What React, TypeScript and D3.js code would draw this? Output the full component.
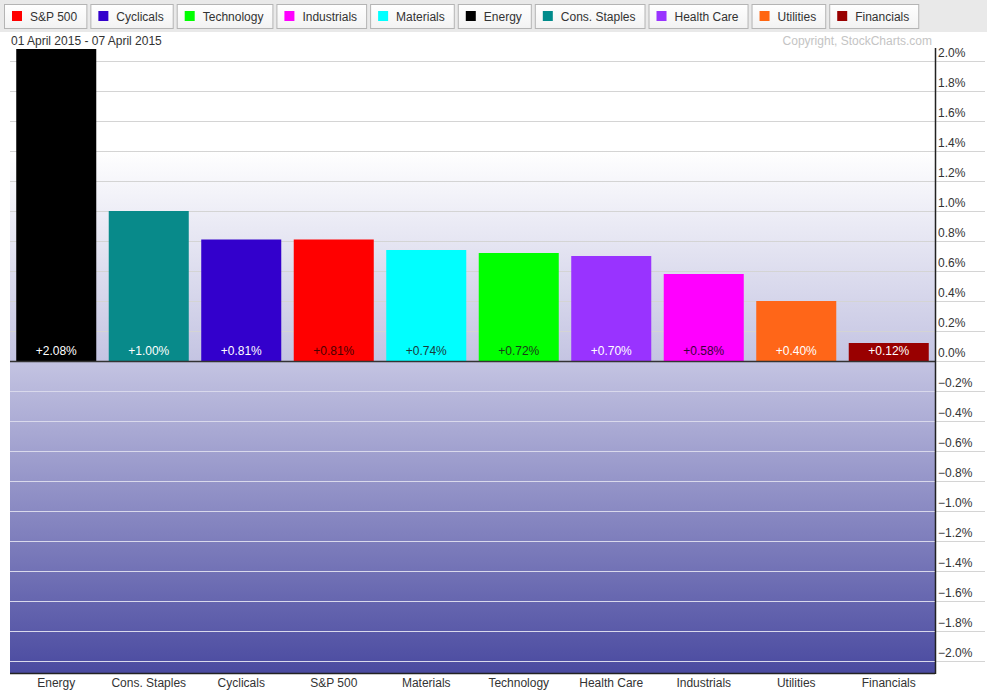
import React from "react";
import * as d3 from "d3";

const legendNames = ["S&P 500", "Cyclicals", "Technology", "Industrials", "Materials", "Energy", "Cons. Staples", "Health Care", "Utilities", "Financials"];
const legendColors = ["#ff0000", "#3300cc", "#00ff00", "#ff00ff", "#00ffff", "#000000", "#008b8b", "#9933ff", "#ff6611", "#990000"];

const categories = ["Energy", "Cons. Staples", "Cyclicals", "S&P 500", "Materials", "Technology", "Health Care", "Industrials", "Utilities", "Financials"];
const values = [2.08, 1.0, 0.81, 0.81, 0.74, 0.72, 0.7, 0.58, 0.4, 0.12];
const barColors = ["#000000", "#088a8a", "#3300cc", "#ff0000", "#00ffff", "#00ff00", "#9933ff", "#ff00ff", "#ff6618", "#990000"];
const labelColors = ["#ffffff", "#ffffff", "#ffffff", "#4a0000", "#1a3a3a", "#1a3a1a", "#ffffff", "#3a003a", "#ffffff", "#ffffff"];
const tickValues = [2.0, 1.8, 1.6, 1.4, 1.2, 1.0, 0.8, 0.6, 0.4, 0.2, 0.0, -0.2, -0.4, -0.6, -0.8, -1.0, -1.2, -1.4, -1.6, -1.8, -2.0];

const W = 987, H = 693;
const FONT = "'Liberation Sans', Arial, sans-serif";
const plotLeft = 10, plotRight = 935, plotTop = 33, plotBottom = 673;

function measure(text: string): number {
  const c = document.createElement("canvas").getContext("2d");
  if (!c) return text.length * 6.5;
  c.font = "12px 'Liberation Sans', Arial, sans-serif";
  return c.measureText(text).width;
}

export default function App() {
  const y = d3.scaleLinear().domain([-2, 2]).range([661, 61]);
  const x = d3.scaleBand<string>().domain(categories).range([plotLeft, plotRight]).paddingInner(0.135).paddingOuter(0.0675);
  const y0 = y(0);

  let lx = 4;
  const buttons = legendNames.map((n, i) => {
    const w = measure(n) + 35;
    const b = { n, c: legendColors[i], x: lx, w };
    lx += w + 4;
    return b;
  });

  return (
    <svg width={W} height={H} style={{ position: "absolute", left: 0, top: 0, display: "block" }} fontFamily={FONT}>
      <defs>
        <linearGradient id="bg" x1="0" y1={plotTop} x2="0" y2={plotBottom} gradientUnits="userSpaceOnUse">
          <stop offset={(150 - plotTop) / (plotBottom - plotTop)} stopColor="#ffffff" />
          <stop offset={(y0 - plotTop) / (plotBottom - plotTop)} stopColor="#c4c4e2" />
          <stop offset="1" stopColor="#4a4aa0" />
        </linearGradient>
        <linearGradient id="btn" x1="0" y1="0" x2="0" y2="1">
          <stop offset="0" stopColor="#ffffff" />
          <stop offset="1" stopColor="#f2f2f2" />
        </linearGradient>
      </defs>
      <rect x={0} y={0} width={W} height={H} fill="#ffffff" />
      <rect x={0} y={0} width={W} height={32} fill="#e9e9e9" />
      {buttons.map((b) => (
        <g key={b.n}>
          <rect x={b.x + 0.5} y={4.5} width={b.w} height={24} fill="url(#btn)" stroke="#b4b4b4" />
          <rect x={b.x + 8} y={11} width={10} height={10} fill={b.c} />
          <text x={b.x + 26} y={20.5} fontSize={12} fill="#333">{b.n}</text>
        </g>
      ))}
      <rect x={plotLeft} y={plotTop} width={plotRight - plotLeft} height={plotBottom - plotTop} fill="url(#bg)" />
      {tickValues.map((t) => (
        <g key={t}>
          <line x1={plotLeft} x2={W - 2} y1={y(t) + 0.5} y2={y(t) + 0.5}
            stroke={t > 0 ? "#d4d4d4" : "#d9d9ec"} strokeWidth={1} />
          <line x1={plotRight} x2={W - 2} y1={y(t) + 0.5} y2={y(t) + 0.5} stroke="#d4d4d4" strokeWidth={1} />
          <text x={plotRight + 3} y={y(t) - 4.5} fontSize={12} fill="#333">{d3.format(".1f")(t)}%</text>
        </g>
      ))}
      {categories.map((c, i) => {
        const bx = x(c) as number;
        const top = y(values[i]);
        return (
          <g key={c}>
            <rect x={bx} y={top} width={x.bandwidth()} height={y0 - top} fill={barColors[i]} />
            <text x={bx + x.bandwidth() / 2} y={y0 - 6} fontSize={12} textAnchor="middle" fill={labelColors[i]}>
              {d3.format("+.2f")(values[i])}%
            </text>
            <text x={bx + x.bandwidth() / 2} y={687} fontSize={12} textAnchor="middle" fill="#333">{c}</text>
          </g>
        );
      })}
      <line x1={plotLeft} x2={plotRight} y1={y0 + 0.5} y2={y0 + 0.5} stroke="#333" strokeWidth={1.5} />
      <line x1={plotLeft} x2={plotRight} y1={plotBottom + 0.5} y2={plotBottom + 0.5} stroke="#222" strokeWidth={1.5} />
      <line x1={plotRight + 0.5} x2={plotRight + 0.5} y1={48} y2={plotBottom + 1} stroke="#222" strokeWidth={1.5} />
      <text x={11} y={45} fontSize={12} fill="#333">01 April 2015 - 07 April 2015</text>
      <text x={932} y={45} fontSize={12} fill="#c4c4c4" textAnchor="end">Copyright, StockCharts.com</text>
    </svg>
  );
}
